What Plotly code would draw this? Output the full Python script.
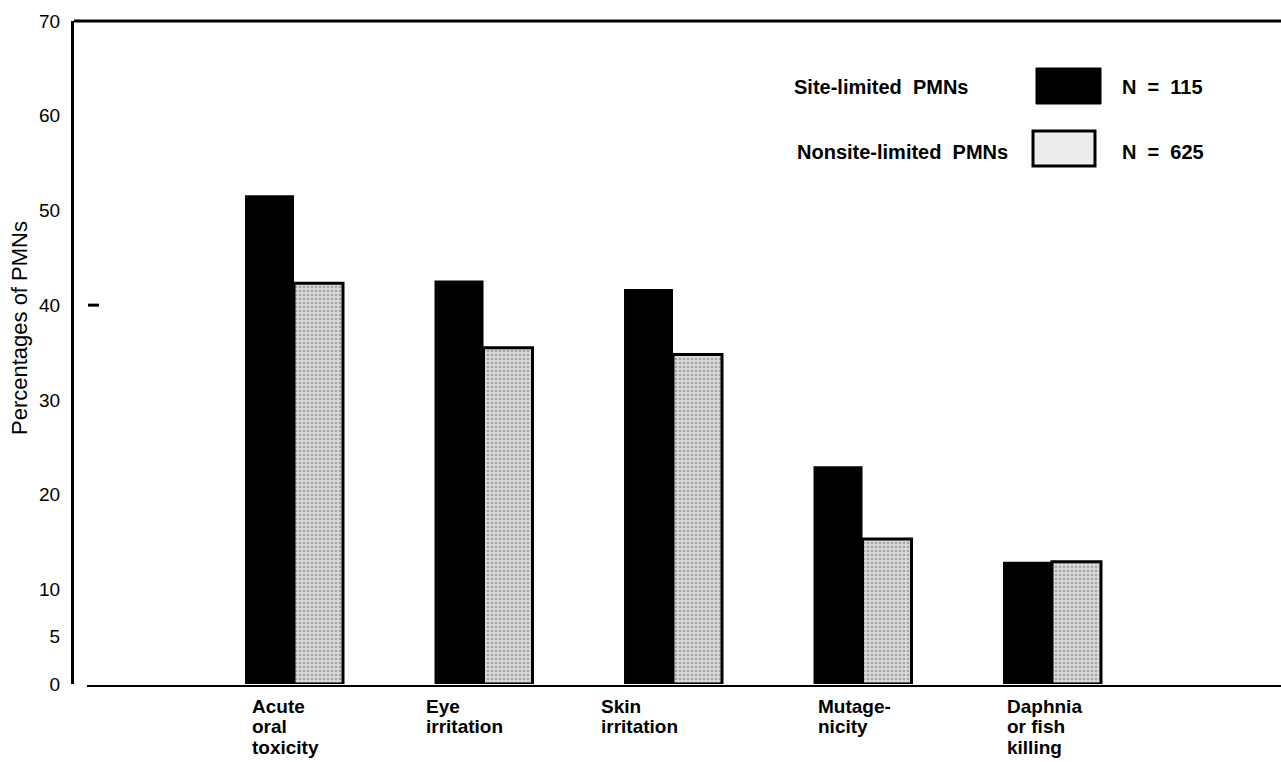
import plotly.graph_objects as go

# ---- data ----
categories = ["Acute oral toxicity", "Eye irritation", "Skin irritation", "Mutagenicity", "Daphnia or fish killing"]
category_lines = [["Acute", "oral", "toxicity"], ["Eye", "irritation"], ["Skin", "irritation"],
                  ["Mutage-", "nicity"], ["Daphnia", "or fish", "killing"]]
series_names = ["Site-limited  PMNs", "Nonsite-limited  PMNs"]
series_n = [115, 625]
site_limited = [51.6, 42.6, 41.7, 23.0, 12.9]
nonsite_limited = [42.3, 35.5, 34.8, 15.3, 12.9]
y_tickvals = [0, 5, 10, 20, 30, 40, 50, 60, 70]

W, H = 1281, 762
PAGE_TOP, PAGE_BOTTOM, PAGE_LEFT = 21, 684, 74
L, R = PAGE_LEFT, 0
T, B = PAGE_TOP, H - PAGE_BOTTOM
PW, PH = W - L - R, H - T - B

def px_x(p):  # page pixel x -> paper
    return (p - L) / PW

def px_y(p):  # page pixel y -> paper
    return (H - B - p) / PH

FONT = "Liberation Sans, Arial, Helvetica, sans-serif"

fig = go.Figure()
fig.add_trace(go.Bar(
    x=categories, y=site_limited, name=series_names[0],
    marker=dict(color="black", line=dict(width=0)),
    showlegend=False,
))
fig.add_trace(go.Bar(
    x=categories, y=nonsite_limited, name=series_names[1],
    marker=dict(color="#d6d6d6", line=dict(color="black", width=3),
                pattern=dict(shape=".", fgcolor="#6e6e6e", bgcolor="#dadada", size=4, solidity=0.35)),
    showlegend=False,
))

# x range chosen so group centres fall where the reference has them
x_left = -1.161
x_right = x_left + PW / 189.5

fig.update_layout(
    width=W, height=H,
    margin=dict(l=L, r=R, t=T, b=B, pad=0),
    paper_bgcolor="white", plot_bgcolor="white",
    barmode="group", bargap=0.483, bargroupgap=0,
    font=dict(family=FONT, size=19, color="black"),
    xaxis=dict(type="category", range=[x_left, x_right], showticklabels=False,
               showline=False, showgrid=False, zeroline=False, ticks=""),
    yaxis=dict(range=[0, 70], tickvals=y_tickvals, ticktext=[str(v) for v in y_tickvals],
               showline=True, linecolor="black", linewidth=3, showgrid=False, zeroline=False,
               ticks="", ticklabelstandoff=7, tickfont=dict(size=19, family=FONT)),
)

# frame lines: top and bottom baseline
fig.add_shape(type="line", xref="paper", yref="paper", x0=0, x1=1, y0=1, y1=1,
              line=dict(color="black", width=3))
fig.add_shape(type="line", xref="paper", yref="paper", x0=px_x(87), x1=1, y0=px_y(686), y1=px_y(686),
              line=dict(color="black", width=2))
# small stray tick mark near 40
fig.add_shape(type="line", xref="paper", yref="y", x0=px_x(88), x1=px_x(99), y0=40, y1=40,
              line=dict(color="black", width=3))

# y-axis title
fig.add_annotation(text="Percentages of PMNs", xref="paper", yref="paper",
                   x=px_x(19), y=px_y(328), textangle=-90, showarrow=False,
                   font=dict(size=22, family=FONT), xanchor="center", yanchor="middle")

# category labels (left aligned, below the axis), one annotation per line
label_shift = [-44, -60, -74, -47, -47]
for cat, lines, sh in zip(categories, category_lines, label_shift):
    for j, ln in enumerate(lines):
        fig.add_annotation(text="<b>" + ln + "</b>", xref="x", yref="paper", x=cat,
                           y=px_y(706 + 20.5 * j),
                           xanchor="left", yanchor="middle", align="left", xshift=sh,
                           showarrow=False, font=dict(size=19, family=FONT))

# legend block
leg_rows = [87, 152]
boxes = [(1036, 1101, 68, 104), (1033, 1095, 131, 166)]
text_left = [792, 795]
for i in range(2):
    fig.add_annotation(text="<b>" + series_names[i].replace(" ", "\u00a0") + "</b>",
                       xref="paper", yref="paper", x=px_x(text_left[i]), y=px_y(leg_rows[i]),
                       xanchor="left", yanchor="middle", showarrow=False,
                       font=dict(size=20, family=FONT))
    fig.add_annotation(text="<b>N\u00a0\u00a0=\u00a0\u00a0" + str(series_n[i]) + "</b>",
                       xref="paper", yref="paper", x=px_x(1120), y=px_y(leg_rows[i]),
                       xanchor="left", yanchor="middle", showarrow=False,
                       font=dict(size=20, family=FONT))
    x0, x1, y0, y1 = boxes[i]
    if i == 0:
        fig.add_shape(type="rect", xref="paper", yref="paper",
                      x0=px_x(x0), x1=px_x(x1), y0=px_y(y1), y1=px_y(y0),
                      fillcolor="black", line=dict(color="black", width=1))
    else:
        fig.add_shape(type="rect", xref="paper", yref="paper",
                      x0=px_x(x0), x1=px_x(x1), y0=px_y(y1), y1=px_y(y0),
                      fillcolor="#ededed", line=dict(color="black", width=3))

fig.write_html("out.html", config={"displayModeBar": False},
               post_script="document.body.style.margin='0';document.body.style.overflow='hidden';")
